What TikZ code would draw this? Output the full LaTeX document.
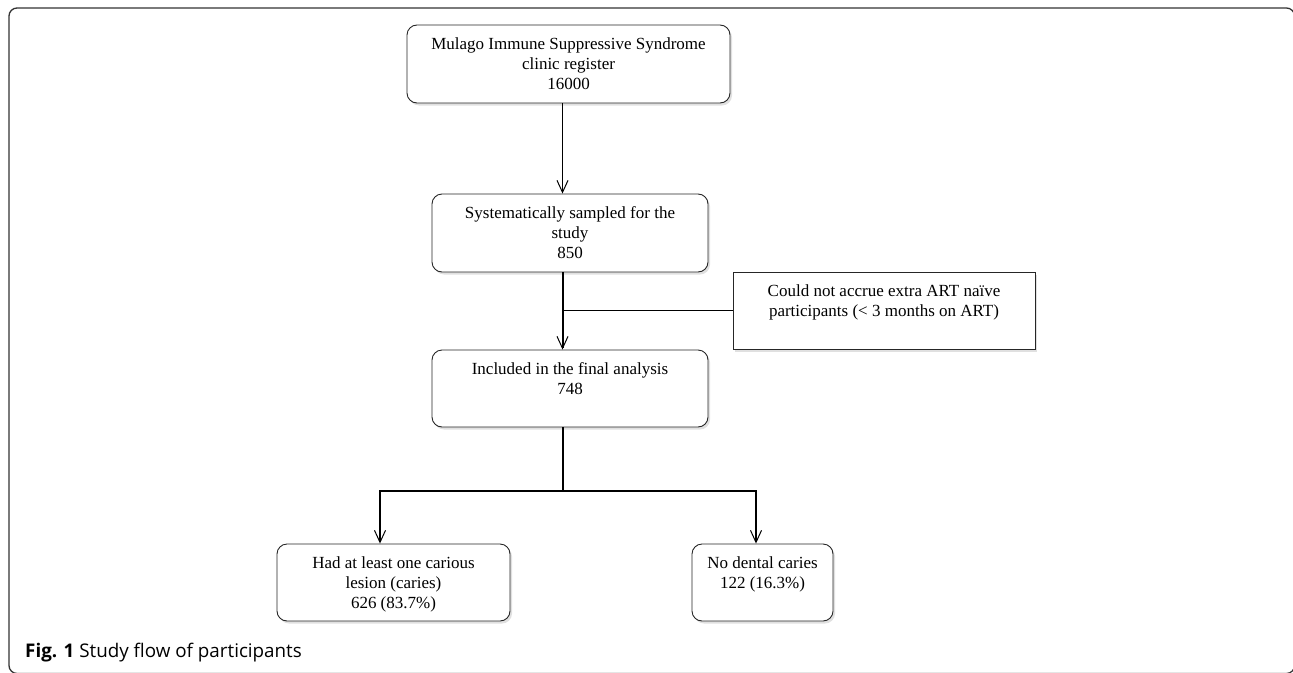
\documentclass[tikz,border=0pt]{standalone}
\usepackage{fontspec}
\setmainfont{Liberation Serif}
\newfontfamily\capfont{Open Sans}
\usetikzlibrary{arrows.meta,shadows}
\begin{document}
\begin{tikzpicture}[x=1pt,y=-1pt,
  boxbase/.style={draw=black!85, line width=0.9pt, fill=white, align=center,
    font=\fontsize{17}{20}\selectfont, inner sep=0pt,
    drop shadow={shadow xshift=2pt, shadow yshift=-2.5pt, opacity=0.12, fill=black}},
  roundbox/.style={boxbase, rounded corners=10pt},
  squarebox/.style={boxbase},
  threelines/.style={text height=53pt, text depth=2pt},
  twolines/.style={text height=33pt, text depth=22pt},
  tip/.style={-{Straight Barb[length=12pt,width=11pt,line width=1pt]}},
  thinline/.style={line width=1.1pt, draw=black},
  thickline/.style={line width=2pt, draw=black},
  midline/.style={line width=1.6pt, draw=black}
]
\useasboundingbox (0,0) rectangle (1293,672);
% outer frame
\draw[line width=1.3pt, draw=black!80, rounded corners=8pt] (9,8) rectangle (1294.5,673.5);

% boxes
\node[roundbox, threelines, minimum width=323pt, minimum height=78pt] (top) at (568.5,64)
  {Mulago Immune Suppressive Syndrome\\clinic register\\16000};
\node[roundbox, threelines, minimum width=276pt, minimum height=78pt] (samp) at (570,233)
  {Systematically sampled for the\\study\\850};
\node[squarebox, twolines, minimum width=302pt, minimum height=77pt] (side) at (884,310.5)
  {Could not accrue extra ART na\"ive\\participants (< 3 months on ART)};
\node[roundbox, twolines, minimum width=276pt, minimum height=77pt] (incl) at (570,388.5)
  {Included in the final analysis\\748};
\node[roundbox, threelines, minimum width=233pt, minimum height=77pt] (car) at (393.5,582.5)
  {Had at least one carious\\lesion (caries)\\626 (83.7\%)};
\node[roundbox, twolines, minimum width=141pt, minimum height=77pt] (nocar) at (762.5,582.5)
  {No dental caries\\122 (16.3\%)};

% connector coordinates
\coordinate (cx) at (562.5,0);
\coordinate (jn) at (562.5,491);
\coordinate (jl) at (380,491);
\coordinate (jr) at (756,491);

\draw[thinline, tip] (top.south -| cx) -- (samp.north -| cx);
\draw[thickline, tip] (samp.south -| cx) -- (incl.north -| cx);
\draw[midline] (side.west) -- (side.west -| cx);
\draw[thickline] (incl.south -| cx) -- (jn);
\draw[thickline, line join=miter, {Straight Barb[length=12pt,width=11pt,line width=1pt]}-{Straight Barb[length=12pt,width=11pt,line width=1pt]}]
  (car.north -| jl) -- (jl) -- (jr) -- (nocar.north -| jr);

% caption
\node[anchor=base west, inner sep=0pt, font=\capfont\fontsize{18.8}{22}\selectfont] (cap) at (25,657)
  {\textbf{Fig. 1} Study flow of participants};
\end{tikzpicture}
\end{document}
